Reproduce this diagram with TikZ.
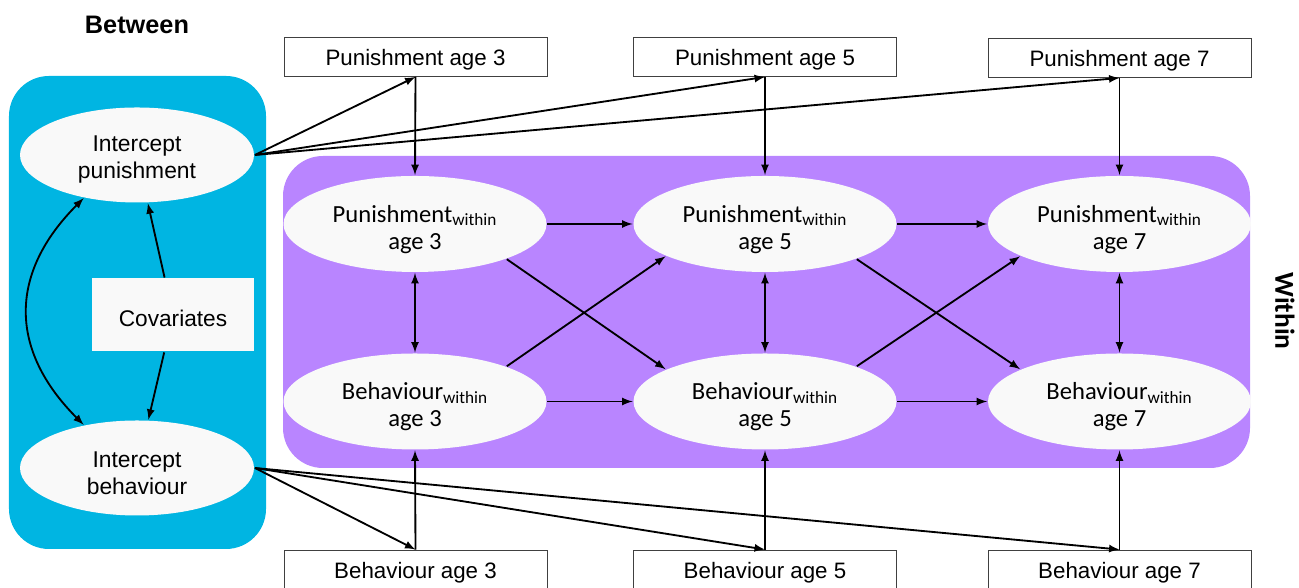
\documentclass[tikz,border=0pt]{standalone}
\usepackage{fontspec}
\setmainfont{Liberation Sans}
\newfontfamily\calfont{Carlito}
\usetikzlibrary{arrows,shapes,calc}
\definecolor{betweenblue}{HTML}{00B5E2}
\definecolor{withinpurple}{HTML}{B985FF}
\definecolor{nodefill}{HTML}{F9F9F9}
\newcommand{\tstrut}{\rule{0pt}{1.12em}}

\begin{document}
\begin{tikzpicture}[>=latex, line width=1.05pt,
	obs/.style={rectangle, draw=black!75, line width=0.5pt, fill=white, minimum width=5.26cm, minimum height=0.78cm, inner sep=0pt, text height=9.9pt, text depth=0pt, font=\fontsize{12.7}{15.4}\selectfont},
	icpt/.style={ellipse, fill=nodefill, minimum width=4.68cm, minimum height=1.9cm, inner sep=0pt, align=center, font=\fontsize{13}{15.4}\selectfont},
	wthn/.style={ellipse, fill=nodefill, minimum width=5.26cm, minimum height=1.92cm, inner sep=0pt, align=center, font=\calfont\fontsize{14}{15.4}\selectfont}]
	\useasboundingbox (0,0) rectangle (25.98,11.76);

	% the two levels
	\fill[betweenblue, rounded corners=0.8cm] (0.18,0.78) rectangle (5.32,10.24);
	\fill[withinpurple, rounded corners=0.8cm] (5.66,2.40) rectangle (25.0,8.64);

  	\path (2.74,11.26) node (between){\fontsize{14.4}{16}\selectfont\bfseries Between}
			(25.70,5.54) node[rotate=-90] (within){\calfont\fontsize{15.6}{17}\selectfont\bfseries Within}
  		(2.74,8.66) node[icpt] (ipun){\tstrut Intercept\\punishment}
  		(2.74,2.40) node[icpt] (ibeh){\tstrut Intercept\\behaviour}
  		(3.46,5.46) node[rectangle, fill=nodefill, minimum width=3.24cm, minimum height=1.46cm, text height=12.8pt, text depth=0pt, font=\fontsize{12.9}{15.4}\selectfont] (cov){Covariates};

  	\path (8.31,10.62) node[obs] (pa3){Punishment age 3}
			(15.30,10.62) node[obs] (pa5){Punishment age 5}
			(22.39,10.60) node[obs] (pa7){Punishment age 7}
  		(8.30,7.28) node[wthn] (pw3){\tstrut Punishment\textsubscript{within}\\age 3}
  		(15.30,7.28) node[wthn] (pw5){\tstrut Punishment\textsubscript{within}\\age 5}
  		(22.39,7.28) node[wthn] (pw7){\tstrut Punishment\textsubscript{within}\\age 7}
  		(8.30,3.73) node[wthn] (bw3){\tstrut Behaviour\textsubscript{within}\\age 3}
  		(15.30,3.73) node[wthn] (bw5){\tstrut Behaviour\textsubscript{within}\\age 5}
  		(22.39,3.73) node[wthn] (bw7){\tstrut Behaviour\textsubscript{within}\\age 7}
			(8.31,0.37) node[obs] (ba3){Behaviour age 3}
			(15.30,0.37) node[obs] (ba5){Behaviour age 5}
			(22.39,0.37) node[obs] (ba7){Behaviour age 7};

	% between part
  	\draw[->](cov) -- (ipun);
  	\draw[->](cov) -- (ibeh);
  	\draw[<->](ipun.219) to[out=225, in=135, looseness=1.2] (ibeh.141);
  	\foreach \a in {3,5,7}{
		\draw[->](ipun.east) -- (pa\a.south);
		\draw[->](ibeh.east) -- (ba\a.north);
		\draw[->](pa\a.south) -- (pw\a.north);
		\draw[->](ba\a.north) -- (bw\a.south);
		\draw[<->](pw\a.south) -- (bw\a.north);
  	}

	% within part
		\draw[->](pw3.east) -- (pw5.west);
		\draw[->](pw5.east) -- (pw7.west);
		\draw[->](bw3.east) -- (bw5.west);
		\draw[->](bw5.east) -- (bw7.west);
		\draw[->](pw3.-21) -- (bw5.162);
		\draw[->](pw5.-21) -- (bw7.162);
		\draw[->](bw3.21) -- (pw5.198);
		\draw[->](bw5.21) -- (pw7.198);
  \end{tikzpicture}
\end{document}
